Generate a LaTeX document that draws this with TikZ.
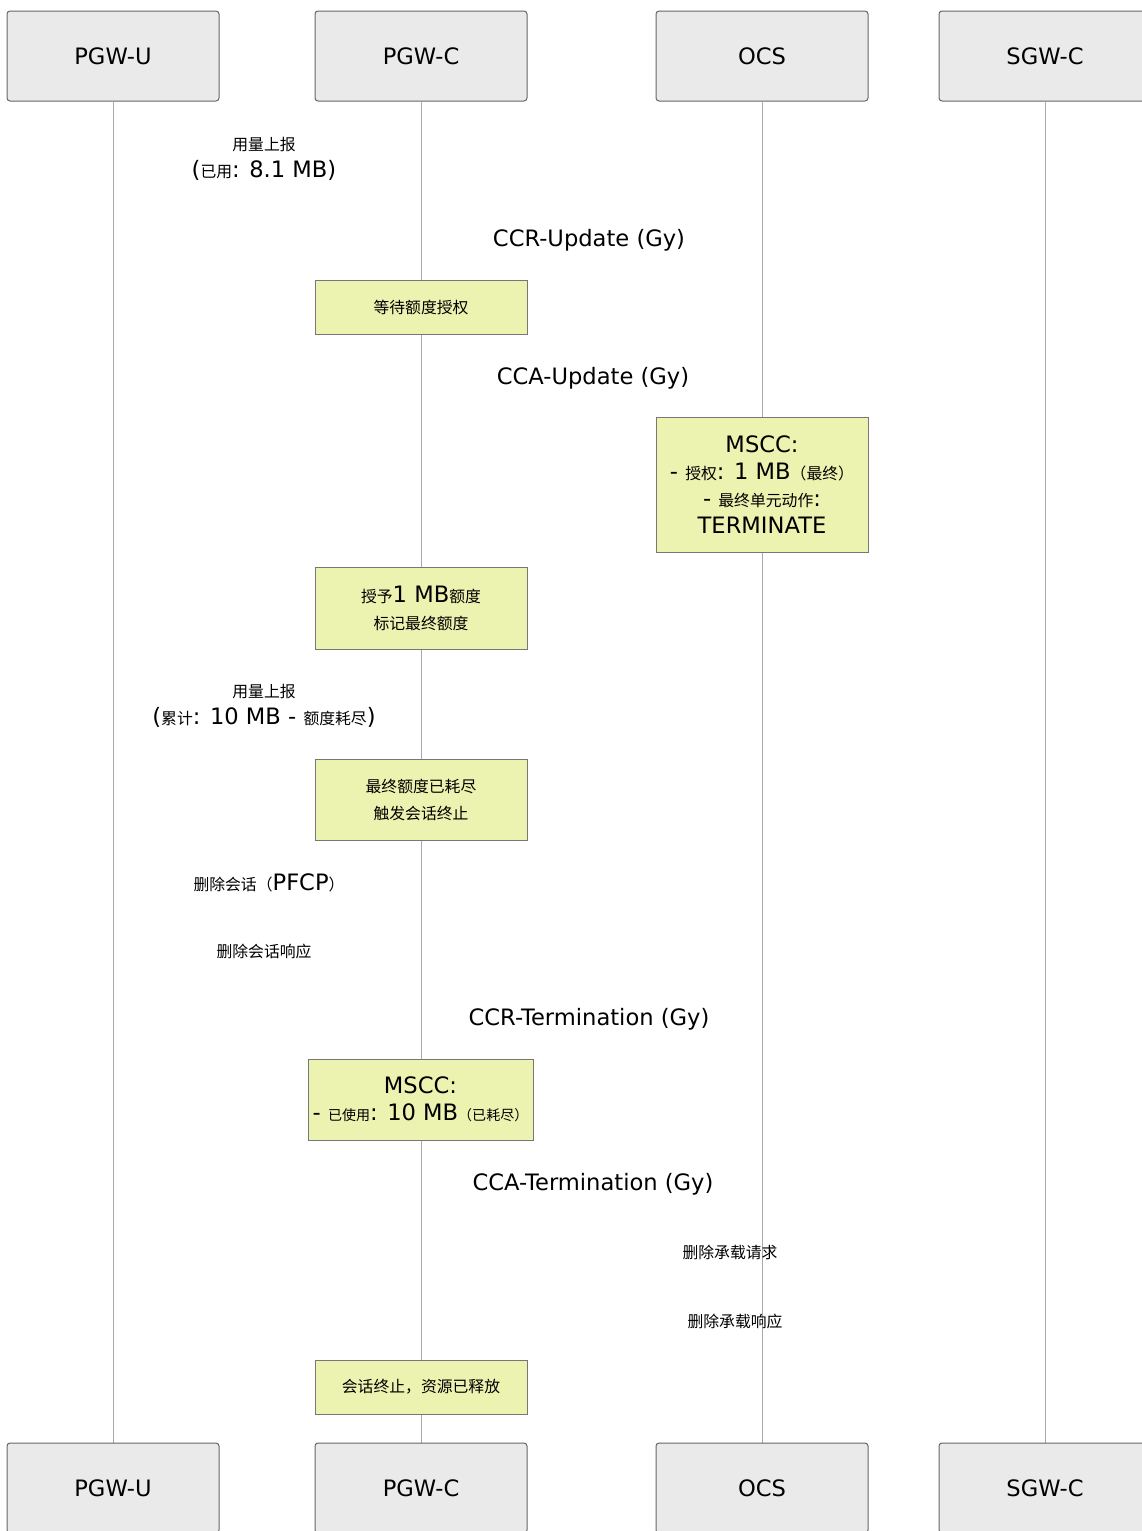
\documentclass[tikz,border=0pt]{standalone}
\usepackage{fontspec}
\setmainfont{DejaVu Sans}
\newfontfamily\cjkfont[Scale=0.7]{Noto Sans CJK SC}
\newfontfamily\cjksmall[Scale=0.62]{Noto Sans CJK SC}
\newcommand{\zh}[1]{{\cjkfont #1}}
\newcommand{\zhs}[1]{{\cjksmall #1}}
\definecolor{actorfill}{RGB}{234,234,234}
\definecolor{actorline}{RGB}{102,102,102}
\definecolor{notefill}{RGB}{236,242,175}
\definecolor{noteline}{RGB}{119,119,119}
\definecolor{lifecol}{RGB}{170,170,170}
\pgfdeclarelayer{bg}
\pgfsetlayers{bg,main}
\begin{document}
\begin{tikzpicture}[x=0.5pt,y=-0.5pt,
  every node/.style={font=\fontsize{11.3}{13.5}\selectfont, text=black},
  actor/.style={draw=actorline, fill=actorfill, rounded corners=1.5pt, minimum width=106pt, minimum height=45pt, line width=0.5pt, inner sep=0},
  notebox/.style={draw=noteline, fill=notefill, minimum width=106pt, align=center, inner sep=0, line width=0.5pt},
  msg/.style={inner sep=0, align=center},
  life/.style={draw=lifecol, line width=0.5pt}]
\useasboundingbox (0,0) rectangle (1141,1531);
% participants
\node[actor] (tu) at (113,56) {PGW-U};
\node[actor] (tc) at (421,56) {PGW-C};
\node[actor] (to) at (762,56) {OCS};
\node[actor] (ts) at (1045,56) {SGW-C};
\node[actor] (bu) at (113,1488) {PGW-U};
\node[actor] (bc) at (421,1488) {PGW-C};
\node[actor] (bo) at (762,1488) {OCS};
\node[actor] (bs) at (1045,1488) {SGW-C};
% notes
\node[notebox, minimum height=27pt] (n1) at (421,307) {\zh{等待额度授权}};
\node[notebox, minimum height=67.5pt] (n2) at (762,484.5) {MSCC:\\- \zh{授权}: 1 MB\zh{（最终）}\\- \zh{最终单元动作}:\\TERMINATE};
\node[notebox, minimum height=41pt] (n3) at (421,608) {\zh{授予}1 MB\zh{额度}\\\zh{标记最终额度}};
\node[notebox, minimum height=40.5pt] (n4) at (421,799.5) {\zh{最终额度已耗尽}\\\zh{触发会话终止}};
\node[notebox, minimum height=40.5pt, minimum width=112.5pt] (n5) at (420.5,1099.5) {MSCC:\\- \zhs{已使用}: 10 MB\zhs{（已耗尽）}};
\node[notebox, minimum height=27pt] (n6) at (421,1387) {\zh{会话终止，资源已释放}};
% messages
\node[msg] (m1) at (264,158.5) {\zh{用量上报}\\(\zh{已用}: 8.1 MB)};
\node[msg] (m2) at (589,240) {CCR-Update (Gy)};
\node[msg] (m3) at (593,378) {CCA-Update (Gy)};
\node[msg] (m4) at (264,705.5) {\zh{用量上报}\\(\zh{累计}: 10 MB - \zh{额度耗尽})};
\node[msg] (m5) at (269,883) {\zh{删除会话（}PFCP\zh{）}};
\node[msg] (m6) at (264,951) {\zh{删除会话响应}};
\node[msg] (m7) at (589,1019) {CCR-Termination (Gy)};
\node[msg] (m8) at (593,1184) {CCA-Termination (Gy)};
\node[msg] (m9) at (730,1252) {\zh{删除承载请求}};
\node[msg] (m10) at (735,1321) {\zh{删除承载响应}};
% lifelines
\begin{pgfonlayer}{bg}
\draw[life] (tu) -- (bu);
\draw[life] (tc) -- (bc);
\draw[life] (to) -- (bo);
\draw[life] (ts) -- (bs);
\end{pgfonlayer}
\end{tikzpicture}
\end{document}
